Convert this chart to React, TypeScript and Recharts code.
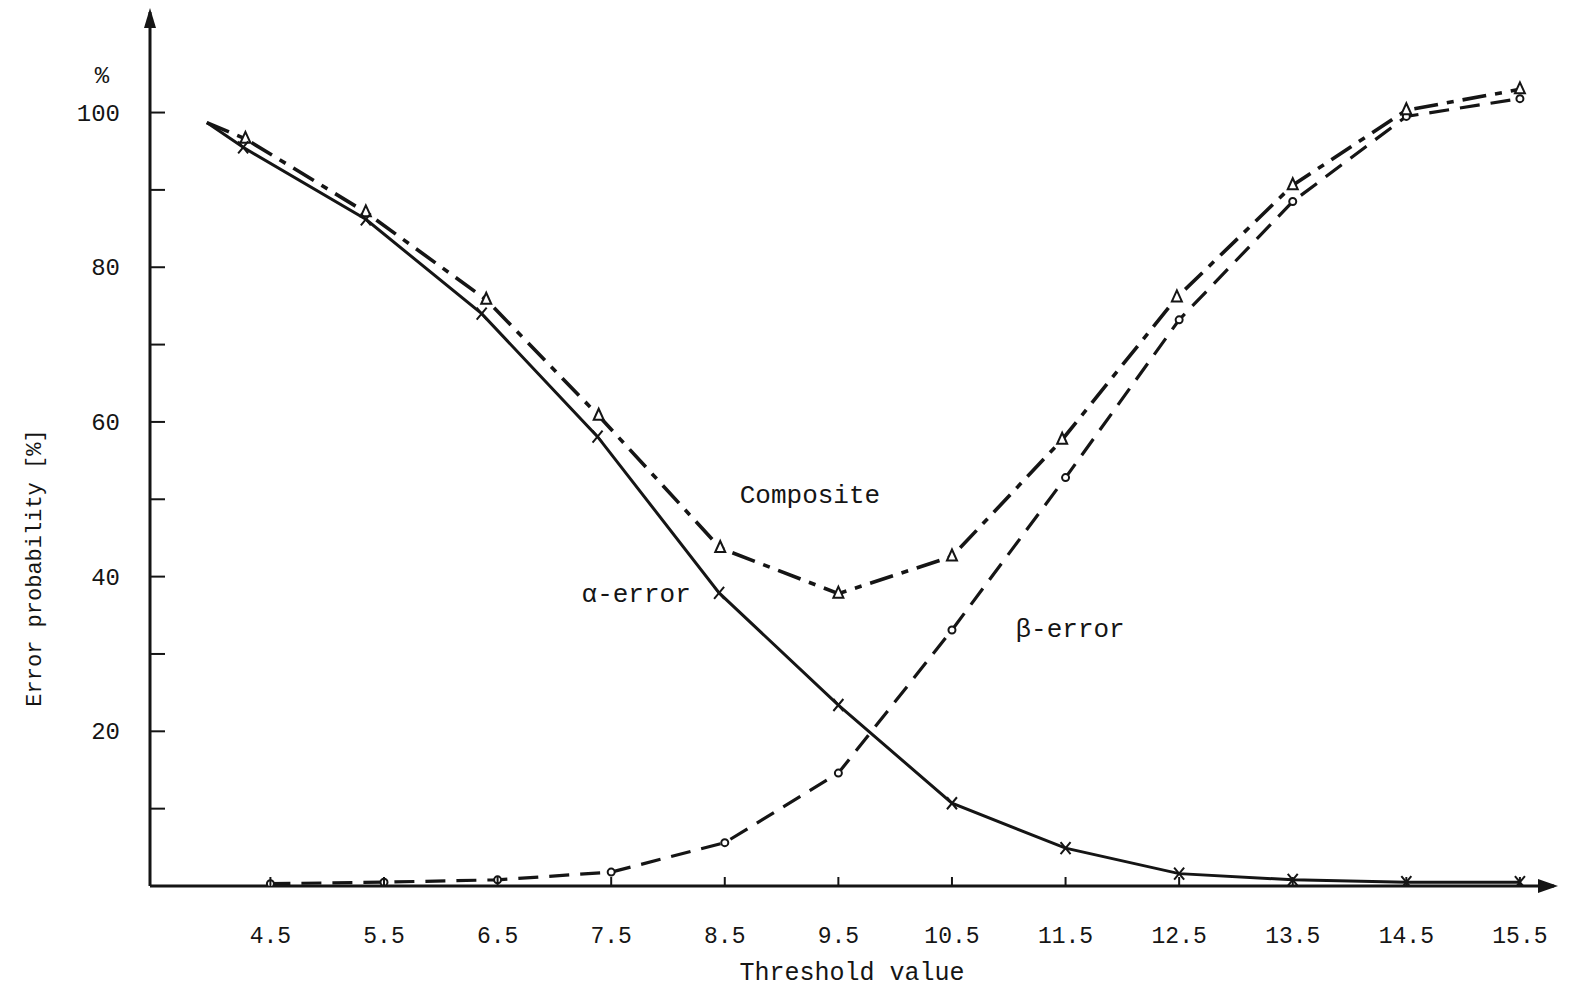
import React from 'react';
import { LineChart, Line, XAxis, YAxis, ReferenceDot } from 'recharts';

// threshold values (x) and error probabilities (%)
const alphaX = [3.94, 4.26, 5.34, 6.36, 7.38, 8.45, 9.5, 10.5, 11.5, 12.5, 13.5, 14.5, 15.5];
const alphaY = [98.7, 95.5, 86.2, 74.0, 58.1, 37.9, 23.4, 10.7, 4.9, 1.6, 0.8, 0.5, 0.5];

const compositeX = [3.94, 4.28, 5.34, 6.4, 7.39, 8.46, 9.5, 10.5, 11.47, 12.48, 13.5, 14.5, 15.5];
const compositeY = [98.7, 96.6, 87.1, 75.8, 60.8, 43.7, 37.8, 42.6, 57.7, 76.1, 90.6, 100.3, 103];

const betaX = [4.5, 5.5, 6.5, 7.5, 8.5, 9.5, 10.5, 11.5, 12.5, 13.5, 14.5, 15.5];
const betaY = [0.3, 0.5, 0.8, 1.8, 5.6, 14.6, 33.1, 52.8, 73.2, 88.5, 99.5, 101.8];

const xTicks = [4.5, 5.5, 6.5, 7.5, 8.5, 9.5, 10.5, 11.5, 12.5, 13.5, 14.5, 15.5];
const yTicks = [10, 20, 30, 40, 50, 60, 70, 80, 90, 100];

const toPoints = (xs: number[], ys: number[]) => xs.map((x, i) => ({ x, y: ys[i] }));
const alpha = toPoints(alphaX, alphaY);
const composite = toPoints(compositeX, compositeY);
const beta = toPoints(betaX, betaY);

const INK = '#151515';
const MONO = '"Liberation Mono", "DejaVu Sans Mono", monospace';

const XTick = (props: any) => {
  const { x, y, payload } = props;
  return (
    <g>
      <line x1={x} y1={y} x2={x} y2={y - 9} stroke={INK} strokeWidth={2} />
      <text x={x} y={y + 57} textAnchor="middle" fontSize={23} fontFamily={MONO} fill={INK}>
        {payload.value.toFixed(1)}
      </text>
    </g>
  );
};

const YTick = (props: any) => {
  const { x, y, payload } = props;
  const v = payload.value;
  return (
    <g>
      <line x1={x} y1={y} x2={x + 15} y2={y} stroke={INK} strokeWidth={2} />
      {v % 20 === 0 && (
        <text x={x - 30} y={y + 8} textAnchor="end" fontSize={24} fontFamily={MONO} fill={INK}>
          {v}
        </text>
      )}
    </g>
  );
};

const crossDot = (props: any) => {
  const { cx, cy, index } = props;
  if (cx == null || index === 0) return <g key={`a${index}`} />;
  return (
    <path key={`a${index}`} d={`M${cx - 5},${cy - 6}L${cx + 5},${cy + 6}M${cx + 5},${cy - 6}L${cx - 5},${cy + 6}`}
      stroke={INK} strokeWidth={2} fill="none" />
  );
};

const triDot = (props: any) => {
  const { cx, cy, index } = props;
  if (cx == null || index === 0) return <g key={`c${index}`} />;
  return (
    <path key={`c${index}`} d={`M${cx},${cy - 7}L${cx + 5},${cy + 4}L${cx - 5},${cy + 4}Z`}
      stroke={INK} strokeWidth={2} fill="#fff" />
  );
};

const circleDot = (props: any) => {
  const { cx, cy, index } = props;
  if (cx == null) return <g key={`b${index}`} />;
  return <circle key={`b${index}`} cx={cx} cy={cy} r={3.5} stroke={INK} strokeWidth={2} fill="#fff" />;
};

const arrowRight = (p: any) => (
  <path d={`M${p.cx + 4},${p.cy}L${p.cx - 16},${p.cy - 7}L${p.cx - 16},${p.cy + 7}Z`} fill={INK} />
);
const arrowUp = (p: any) => (
  <path d={`M${p.cx},${p.cy - 4}L${p.cx - 6},${p.cy + 16}L${p.cx + 6},${p.cy + 16}Z`} fill={INK} />
);

const textLabel = (value: string) => ({
  value,
  position: 'center' as const,
  fontSize: 26,
  fontFamily: MONO,
  fill: INK,
});

export default function App() {
  return (
    <div style={{ width: 1563, height: 982, background: '#fff', fontFamily: MONO }}>
      <LineChart width={1563} height={982} margin={{ top: 4, right: 17, left: 0, bottom: 0 }}>
        <XAxis
          type="number"
          dataKey="x"
          domain={[3.44, 15.8]}
          ticks={xTicks}
          allowDataOverflow
          height={104}
          axisLine={{ stroke: INK, strokeWidth: 3 }}
          tickLine={false}
          tickSize={0}
          tickMargin={0}
          tick={<XTick />}
          interval={0}
          label={{ value: 'Threshold value', position: 'insideBottom', offset: 10, fontSize: 25, fontFamily: MONO, fill: INK }}
        />
        <YAxis
          type="number"
          dataKey="y"
          domain={[0, 113]}
          ticks={yTicks}
          allowDataOverflow
          width={142}
          axisLine={{ stroke: INK, strokeWidth: 3 }}
          tickLine={false}
          tickSize={0}
          tickMargin={0}
          tick={<YTick />}
          interval={0}
        />
        <Line data={beta} dataKey="y" stroke={INK} strokeWidth={3.2} strokeDasharray="20 11"
          dot={circleDot} activeDot={false} isAnimationActive={false} type="linear" />
        <Line data={composite} dataKey="y" stroke={INK} strokeWidth={3.6} strokeDasharray="24 9 7 9"
          dot={triDot} activeDot={false} isAnimationActive={false} type="linear" />
        <Line data={alpha} dataKey="y" stroke={INK} strokeWidth={3} 
          dot={crossDot} activeDot={false} isAnimationActive={false} type="linear" />
        <ReferenceDot x={15.8} y={0} r={0} ifOverflow="visible" shape={arrowRight} />
        <ReferenceDot x={3.44} y={113} r={0} ifOverflow="visible" shape={arrowUp} />
        <ReferenceDot x={9.25} y={50.7} r={0} ifOverflow="visible" label={textLabel('Composite')} />
        <ReferenceDot x={7.72} y={37.9} r={0} ifOverflow="visible" label={textLabel('α-error')} />
        <ReferenceDot x={11.54} y={33.4} r={0} ifOverflow="visible" label={textLabel('β-error')} />
        <text x={94} y={75} textAnchor="middle" fontSize={24} fontFamily={MONO} fill={INK}>%</text>
        <text x={27} y={560} textAnchor="middle" fontSize={22} fontFamily={MONO} fill={INK}
          transform="rotate(-90 27 560)" dominantBaseline="central">
          Error probability  [%]
        </text>
      </LineChart>
    </div>
  );
}
